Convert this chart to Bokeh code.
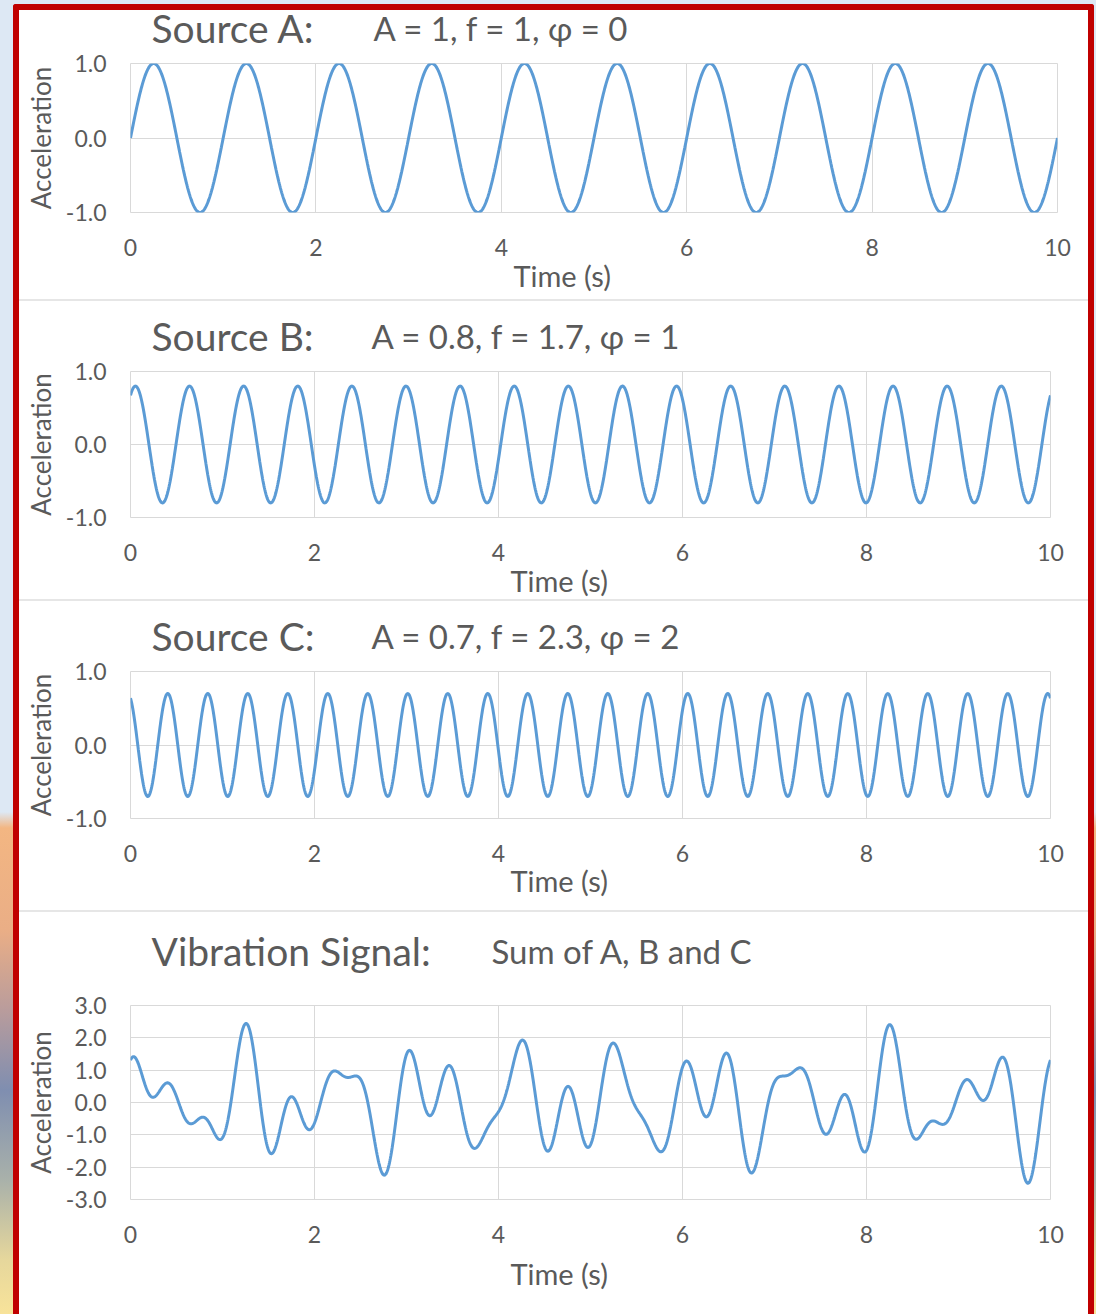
import numpy as np
from bokeh.plotting import figure
from bokeh.models import FixedTicker, ColumnDataSource, Title
from bokeh.layouts import column
from bokeh.core.properties import value
from bokeh.embed import file_html
from bokeh.resources import INLINE

source_names = ["Source A:", "Source B:", "Source C:"]
param_texts = ["A = 1, f = 1, \u03c6 = 0", "A = 0.8, f = 1.7, \u03c6 = 1", "A = 0.7, f = 2.3, \u03c6 = 2"]
amplitudes = [1.0, 0.8, 0.7]
frequencies = [1.0, 1.7, 2.3]
phases = [0.0, 1.0, 2.0]
sum_title = "Vibration Signal:"
sum_text = "Sum of A, B and C"
x_ticks = [0, 2, 4, 6, 8, 10]
x_labels = ["0", "2", "4", "6", "8", "10"]
src_y_ticks = [-1, 0, 1]
src_y_labels = ["-1.0", "0.0", "1.0"]
sum_y_ticks = [-3, -2, -1, 0, 1, 2, 3]
sum_y_labels = ["-3.0", "-2.0", "-1.0", "0.0", "1.0", "2.0", "3.0"]
time = np.linspace(0, 10, 2001)

signals = [a * np.sin(2 * np.pi * f * time + ph) for a, f, ph in zip(amplitudes, frequencies, phases)]
total = signals[0] + signals[1] + signals[2]

FONT = "Lato"
TXT = "#5a5a5a"
LINE = "#5b9bd5"
GRID = "#d9d9d9"
W = 1069
LEFT = 111
TOPGAP = 10
BASE_FIX = 17  # measured vertical shift of the header's text baseline


def header(hh, fw, title, sub, sub_px, base):
    right = W - LEFT - fw
    hp = figure(frame_width=fw, height=hh, x_range=(0, fw), y_range=(0, hh),
                x_axis_type=None, y_axis_type=None,
                output_backend="svg", toolbar_location=None,
                min_border_left=LEFT, min_border_right=right,
                min_border_top=0, min_border_bottom=0,
                background_fill_color="white", border_fill_color="white")
    hp.grid.visible = False
    hp.outline_line_color = None
    hp.text(x=[21], y=[base + BASE_FIX], text=[title],
            text_font=value(FONT), text_font_size="39px", text_color=TXT,
            text_baseline="alphabetic", text_align="left")
    hp.text(x=[sub_px], y=[base + BASE_FIX], text=[sub],
            text_font=value(FONT), text_font_size="33px", text_color=TXT,
            text_baseline="alphabetic", text_align="left")
    return hp


def panel(hh, fw, fh, bottom, yr, y_ticks, y_labels, ydata,
          title, sub, sub_px, base, time_off, time_standoff):
    right = W - LEFT - fw
    p = figure(frame_width=fw, frame_height=fh, x_range=(0, 10), y_range=yr,
               output_backend="svg", toolbar_location=None,
               min_border_left=LEFT, min_border_right=right,
               min_border_top=TOPGAP, min_border_bottom=bottom,
               background_fill_color="white", border_fill_color="white")
    p.outline_line_color = GRID
    src = ColumnDataSource(dict(t=time, y=ydata))
    p.line("t", "y", source=src, line_color=LINE, line_width=3)
    p.xaxis.ticker = FixedTicker(ticks=x_ticks)
    p.xaxis.major_label_overrides = dict(zip(x_ticks, x_labels))
    p.yaxis.ticker = FixedTicker(ticks=y_ticks)
    p.yaxis.major_label_overrides = dict(zip(y_ticks, y_labels))
    for ax in (p.xaxis, p.yaxis):
        ax.axis_line_color = None
        ax.major_tick_line_color = None
        ax.minor_tick_line_color = None
        ax.major_tick_out = 0
        ax.major_tick_in = 0
        ax.major_label_text_font = FONT
        ax.major_label_text_font_size = "23px"
        ax.major_label_text_color = TXT
    p.xaxis.major_label_standoff = 26
    p.yaxis.major_label_standoff = 24
    p.yaxis.axis_label = "Acceleration"
    p.yaxis.axis_label_text_font = FONT
    p.yaxis.axis_label_text_font_size = "26px"
    p.yaxis.axis_label_text_font_style = "normal"
    p.yaxis.axis_label_text_color = TXT
    p.yaxis.axis_label_standoff = 6
    p.xgrid.grid_line_color = GRID
    p.ygrid.grid_line_color = GRID
    p.add_layout(Title(text="Time (s)", align="left", offset=time_off,
                       text_font=FONT, text_font_size="29px", text_font_style="normal",
                       text_color=TXT, standoff=time_standoff), "below")
    hp = header(hh, fw, title, sub, sub_px, base)
    return column(hp, p, spacing=0, styles={"background-color": "white"})


pa = panel(43, 927, 149, 87, (-1, 1), src_y_ticks, src_y_labels, signals[0],
           source_names[0], param_texts[0], 243, 9, 383, -6)
pb = panel(60, 920, 146, 82, (-1, 1), src_y_ticks, src_y_labels, signals[1],
           source_names[1], param_texts[1], 241, 9, 380, -6)
pc = panel(60, 920, 147, 92, (-1, 1), src_y_ticks, src_y_labels, signals[2],
           source_names[2], param_texts[2], 241, 9, 380, -7)
pd = panel(83, 920, 194, 115, (-3, 3), sum_y_ticks, sum_y_labels, total,
           sum_title, sum_text, 361, 28, 380, 16)

inner = column(pa, pb, pc, pd, spacing=2,
               styles={"background-color": "#e6e6e6", "margin-left": "13px", "margin-top": "4px",
                       "border": "6px solid #c00000", "border-bottom": "none",
                       "border-radius": "3px 3px 0 0"})
page = column(inner, styles={
    "background": "linear-gradient(to bottom, #dde8f4 0px, #dde8f4 812px, #f3b682 828px, "
                  "#eaae86 930px, #b99c9c 1010px, #7f8eb0 1090px, #a9b1aa 1180px, "
                  "#e6d79c 1260px, #f8e39a 1314px)",
    "width": "1096px", "height": "1314px", "overflow": "hidden"})

open("out.html", "w").write(file_html(page, INLINE))
